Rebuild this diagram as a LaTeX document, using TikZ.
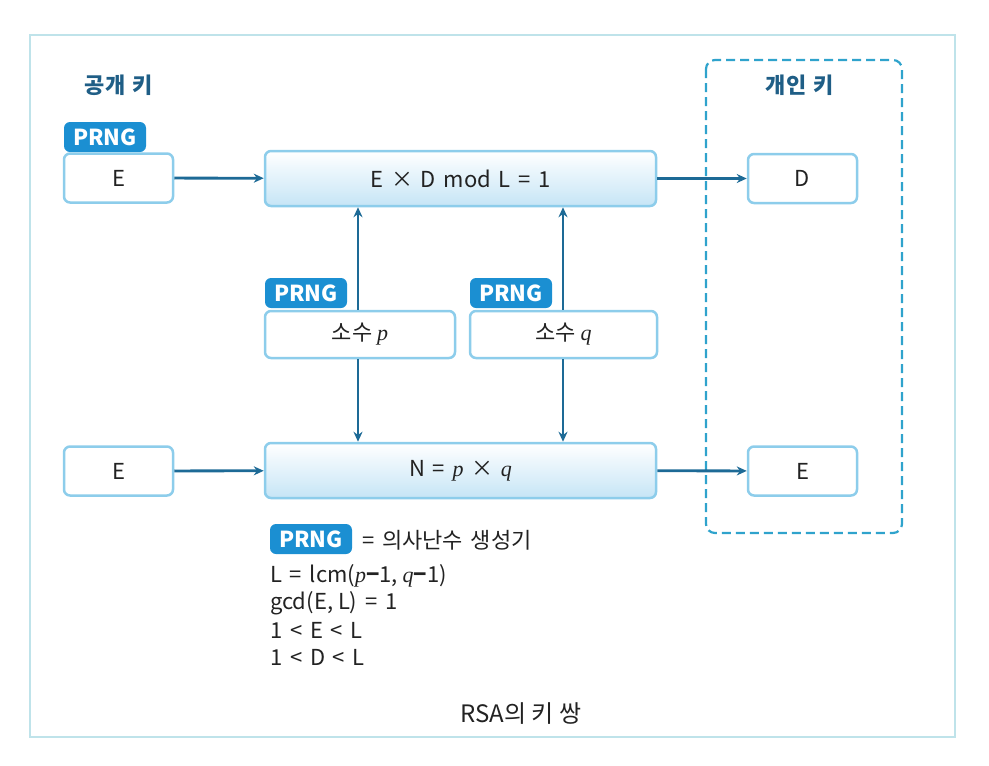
\documentclass[tikz,border=0pt]{standalone}
\usepackage{fontspec}
\setmainfont{Noto Sans CJK KR}
\newfontfamily\serifit{Liberation Serif}
\usetikzlibrary{arrows.meta}
\definecolor{framec}{HTML}{BFE3EA}
\definecolor{boxc}{HTML}{8DCDEB}
\definecolor{prngc}{HTML}{1B8FD2}
\definecolor{arrc}{HTML}{1D6A96}
\definecolor{headc}{HTML}{1F5E86}
\definecolor{dashc}{HTML}{2FA3CC}
\definecolor{gradb}{HTML}{C6E5F6}
\definecolor{txtc}{HTML}{222222}
\newcommand{\vi}[1]{{\serifit\itshape #1}}
\newcommand{\wsp}{\hspace{0.35em}}
\begin{document}
\begin{tikzpicture}[x=1pt,y=-1pt,
  every node/.style={font=\fontsize{22}{26}\selectfont, text=txtc},
  plainbox/.style={draw=boxc, line width=2.5pt, rounded corners=6pt, fill=white, minimum width=109pt, minimum height=49pt, inner sep=0pt},
  mainbox/.style={draw=boxc, line width=2.5pt, rounded corners=6pt, top color=white, bottom color=gradb, minimum width=391pt, minimum height=55pt, inner sep=0pt},
  primebox/.style={draw=boxc, line width=2.5pt, rounded corners=6pt, fill=white, minimum height=47pt, inner sep=0pt},
  prng/.style={fill=prngc, rounded corners=6pt, minimum width=82pt, minimum height=30pt, inner sep=0pt, text=white, font=\fontsize{22}{26}\selectfont\bfseries},
  arr/.style={draw=arrc, line width=2.8pt, -{Stealth[length=10pt,width=9pt]}},
  head/.style={text=headc, font=\fontsize{22}{26}\selectfont\bfseries},
  legend/.style={anchor=west, inner sep=0pt}
]
\useasboundingbox (0,0) rectangle (989,766);
\draw[framec, line width=1.2pt] (30,35) rectangle (955,737);

% headings
\node[head] (pubh) at (119,85) {공개\wsp 키};
\node[head] (privh) at (800,85) {개인\wsp 키};
\draw[dashc, line width=2.2pt, dash pattern=on 9pt off 5pt, rounded corners=9pt] (706,60) rectangle (902,533);

% top row
\node[prng] (prng1) at (105,137) {PRNG};
\node[plainbox] (e1) at (118.5,178) {E};
\node[mainbox] (top) at (460.5,178.5) {E\wsp×\wsp D\wsp mod\wsp L\wsp =\wsp 1};
\node[plainbox] (d) at (802.5,178.5) {D};

% primes
\node[prng] (prng2) at (306,293) {PRNG};
\node[primebox, minimum width=190pt] (pb) at (360,334.5) {소수 \vi{p}};
\node[prng] (prng3) at (511,293) {PRNG};
\node[primebox, minimum width=187pt] (qb) at (563.5,334.5) {소수 \vi{q}};

% bottom row
\node[plainbox] (e2) at (118.5,471) {E};
\node[mainbox] (nb) at (460.5,470.5) {N\wsp =\wsp \vi{p}\wsp ×\wsp \vi{q}};
\node[plainbox] (e3) at (802.5,471) {E};

\coordinate (xp) at (358,0);
\coordinate (xq) at (563,0);

\draw[arr] (e1) -- (top);
\draw[arr] (top) -- (d);
\draw[arr] (e2) -- (nb);
\draw[arr] (nb) -- (e3);
\draw[arr] (pb.north -| xp) -- (top.south -| xp);
\draw[arr] (qb.north -| xq) -- (top.south -| xq);
\draw[arr] (pb.south -| xp) -- (nb.north -| xp);
\draw[arr] (qb.south -| xq) -- (nb.north -| xq);

% legend
\node[prng] (prng4) at (311,539) {PRNG};
\node[legend] (leg0) at (362,540) {=\wsp 의사난수\wsp 생성기};
\node[legend] (leg1) at (270,576) {L\wsp =\wsp lcm(\vi{p}{\bfseries −}1, \vi{q}{\bfseries −}1)};
\node[legend] (leg2) at (270,603) {gcd(E, L)\wsp =\wsp 1};
\node[legend] (leg3) at (270,630) {1\wsp <\wsp E\wsp <\wsp L};
\node[legend] (leg4) at (270,657) {1\wsp <\wsp D\wsp <\wsp L};

\node[font=\fontsize{24}{28}\selectfont] (cap) at (521,714) {RSA의 키 쌍};
\end{tikzpicture}
\end{document}
